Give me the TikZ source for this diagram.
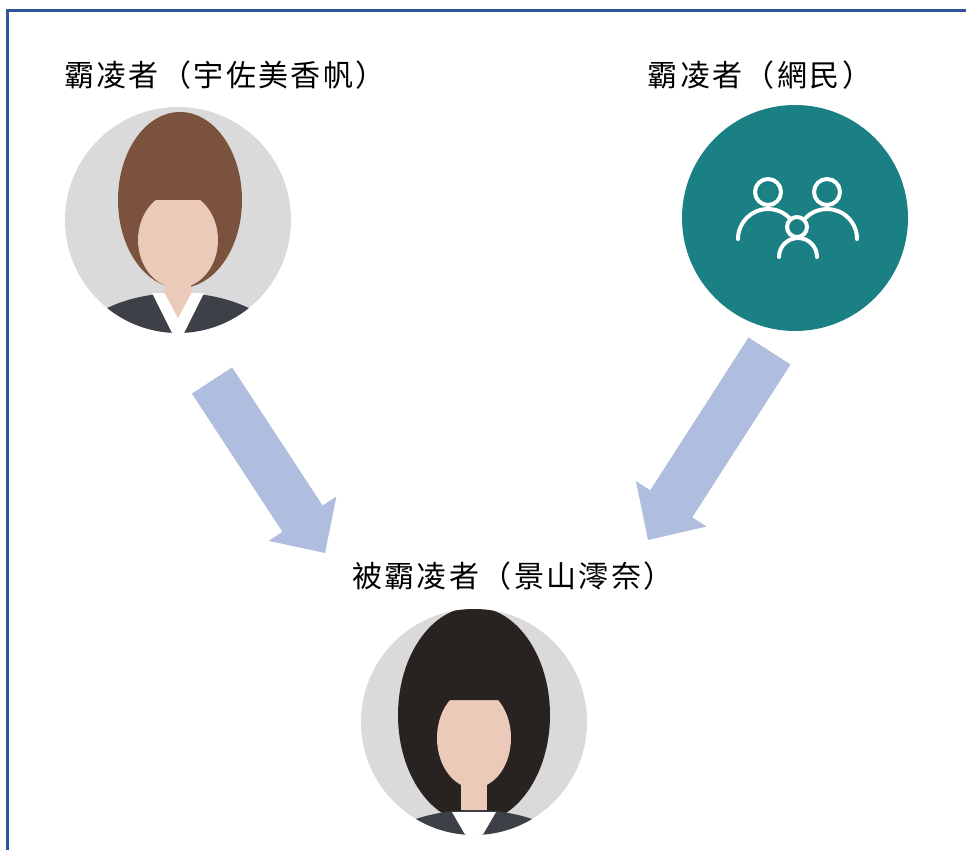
\documentclass[tikz,border=0pt]{standalone}
\usepackage{fontspec}
\usepackage{tikz}
\usetikzlibrary{arrows.meta}
\newfontfamily\cjk[LetterSpace=8]{Noto Sans CJK TC}
\newcommand{\lbltext}[1]{\cjk\fontsize{30}{30}\selectfont #1}
\definecolor{framecol}{RGB}{47,85,151}
\definecolor{arrowcol}{RGB}{175,189,223}
\definecolor{tealcol}{RGB}{27,128,132}
\definecolor{photobg}{RGB}{218,218,218}
\definecolor{skin}{RGB}{236,202,186}
\definecolor{brownhair}{RGB}{122,82,62}
\definecolor{blackhair}{RGB}{40,34,32}
\definecolor{suit}{RGB}{62,64,72}

\begin{document}
\begin{tikzpicture}[x=1pt,y=1pt,
  photo/.style={circle, minimum size=226pt, inner sep=0pt, fill=photobg},
  bigarrow/.style={draw=arrowcol, line width=#1},
  icon/.style={draw=white, line width=4pt, line cap=round}]
\useasboundingbox (0,0) rectangle (966,-850);
\draw[framecol, line width=3pt] (7.5,-860) -- (7.5,-11) -- (970,-11);

\node (bullylbl) at (225,-75) {\lbltext{霸凌者（宇佐美香帆）}};
\node (netlbl) at (760,-75) {\lbltext{霸凌者（網民）}};
\node (victimlbl) at (513,-576) {\lbltext{被霸凌者（景山澪奈）}};

\node[photo] (bully) at (178,-220) {};
\begin{scope}
\clip (bully.center) circle (113);
\fill[brownhair] (180,-200) ellipse (62 and 88);
\fill[skin] (165,-265) rectangle (191,-300);
\fill[skin] (178,-240) ellipse (40 and 48);
\fill[brownhair] (136,-212) .. controls (145,-150) and (211,-150) .. (220,-212) -- (205,-200) -- (150,-200) -- cycle;
\fill[suit] (178,-368) ellipse (118 and 75);
\fill[white] (152,-293) -- (204,-293) -- (178,-345) -- cycle;
\fill[skin] (163,-290) -- (193,-290) -- (178,-318) -- cycle;
\end{scope}

\node[photo, fill=tealcol] (net) at (795,-218) {};
\begin{scope}[shift={(net.center)}]
\draw[icon] (-27,26) circle (13);
\draw[icon] (32,26) circle (13);
\draw[icon] (2,-9) circle (10);
\draw[icon] (-57,-21) arc[start angle=180, end angle=45, radius=30];
\draw[icon] (10.8,0.2) arc[start angle=135, end angle=0, radius=30];
\draw[icon] (-16,-39) arc[start angle=180, end angle=0, radius=19];
\end{scope}

\node[photo] (victim) at (474,-722) {};
\begin{scope}
\clip (victim.center) circle (113);
\fill[blackhair] (474,-715) ellipse (76 and 108);
\fill[skin] (461,-770) rectangle (487,-810);
\fill[skin] (474,-738) ellipse (37 and 50);
\fill[blackhair] (434,-715) .. controls (440,-640) and (508,-640) .. (514,-715) -- (500,-700) -- (448,-700) -- cycle;
\fill[suit] (474,-872) ellipse (112 and 62);
\fill[white] (452,-812) -- (496,-812) -- (474,-850) -- cycle;
\end{scope}

\coordinate (tail1) at (212,-380.5);
\coordinate (tip1) at (325,-553);
\coordinate (tail2) at (769.5,-351);
\coordinate (tip2) at (648,-540);
\draw[bigarrow=48pt, -{Triangle[length=41pt,width=81pt,line width=0pt]}] (tail1) -- (tip1);
\draw[bigarrow=50pt, -{Triangle[length=43pt,width=84pt,line width=0pt]}] (tail2) -- (tip2);
\end{tikzpicture}
\end{document}
